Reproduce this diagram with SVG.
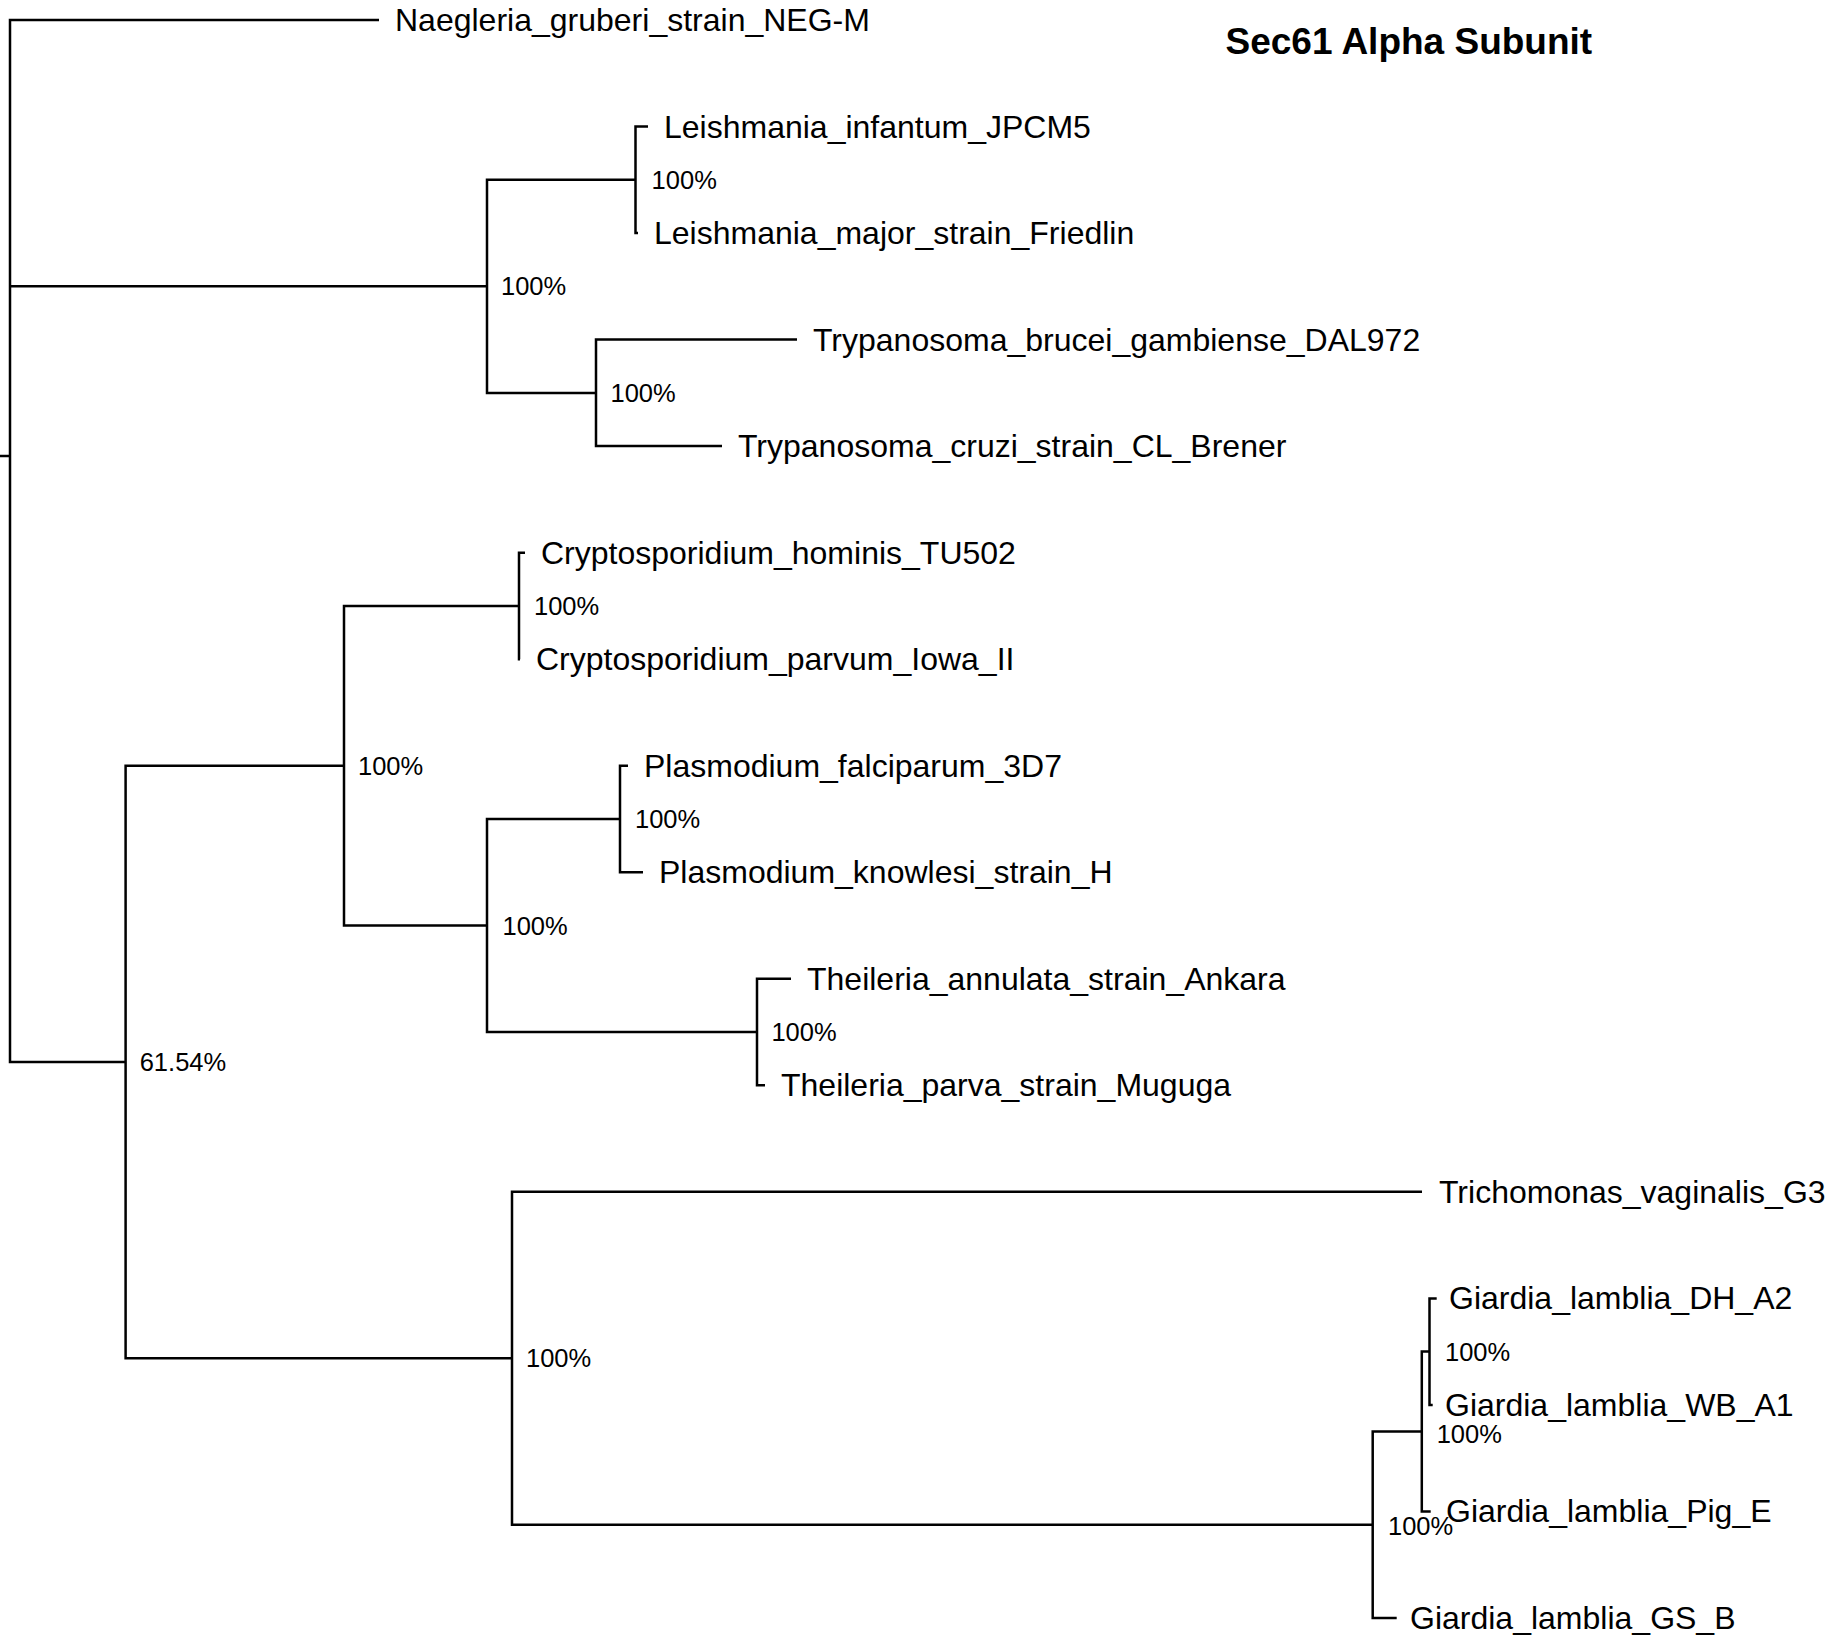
<svg xmlns="http://www.w3.org/2000/svg" width="1841" height="1643" viewBox="0 0 1841 1643">
<style>
.br{fill:none;stroke:#000;stroke-width:2.5;stroke-linejoin:miter;stroke-linecap:butt}
.leaf{font-family:"Liberation Sans",Arial,sans-serif;font-size:32px;fill:#000}
.sup{font-family:"Liberation Sans",Arial,sans-serif;font-size:25.5px;fill:#000}
.title{font-family:"Liberation Sans",Arial,sans-serif;font-size:37px;font-weight:bold;fill:#000}
</style>
<rect width="1841" height="1643" fill="#fff"/>
<text class="title" x="1225.5" y="53.5">Sec61 Alpha Subunit</text>
<g id="connectors">
<path class="br" d="M0 456 H10"/>
<path class="br" d="M379 20 H10 V1062 H125.6"/>
<path class="br" d="M10 286.3 H487"/>
<path class="br" d="M635.5 179.8 H487 V392.9 H596"/>
<path class="br" d="M648 126.5 H635.5 V233.1 H638"/>
<path class="br" d="M797 339.6 H596 V446.1 H722"/>
<path class="br" d="M344 765.7 H125.6 V1358.3 H512"/>
<path class="br" d="M519 606 H344 V925.5 H487"/>
<path class="br" d="M525 552.7 H519 V659.2 H520"/>
<path class="br" d="M620 819 H487 V1032 H757"/>
<path class="br" d="M628 765.7 H620 V872.2 H643"/>
<path class="br" d="M791 978.8 H757 V1085.3 H765"/>
<path class="br" d="M1422 1191.8 H512 V1524.8 H1372.7"/>
<path class="br" d="M1421.8 1431.5 H1372.7 V1618 H1396.7"/>
<path class="br" d="M1429.5 1351.6 H1421.8 V1511.4 H1430.7"/>
<path class="br" d="M1436.7 1298.4 H1429.5 V1404.9 H1432.7"/>
</g>
<g id="leaf_naegleria"><text class="leaf" x="395" y="31">Naegleria_gruberi_strain_NEG-M</text></g>
<g id="node_kinetoplastida"><text class="sup" x="501" y="295.3">100%</text></g>
<g id="node_leishmania"><text class="sup" x="651.6" y="188.8">100%</text></g>
<g id="leaf_l_infantum"><text class="leaf" x="664" y="137.5">Leishmania_infantum_JPCM5</text></g>
<g id="leaf_l_major"><text class="leaf" x="654" y="244.1">Leishmania_major_strain_Friedlin</text></g>
<g id="node_trypanosoma"><text class="sup" x="610.5" y="401.9">100%</text></g>
<g id="leaf_t_brucei"><text class="leaf" x="813" y="350.6">Trypanosoma_brucei_gambiense_DAL972</text></g>
<g id="leaf_t_cruzi"><text class="leaf" x="738" y="457.1">Trypanosoma_cruzi_strain_CL_Brener</text></g>
<g id="node_main"><text class="sup" x="139.7" y="1071">61.54%</text></g>
<g id="node_apicomplexa"><text class="sup" x="358" y="774.7">100%</text></g>
<g id="node_cryptosporidium"><text class="sup" x="534" y="615">100%</text></g>
<g id="leaf_c_hominis"><text class="leaf" x="541" y="563.7">Cryptosporidium_hominis_TU502</text></g>
<g id="leaf_c_parvum"><text class="leaf" x="536" y="670.2">Cryptosporidium_parvum_Iowa_II</text></g>
<g id="node_haemosporida"><text class="sup" x="502.5" y="934.5">100%</text></g>
<g id="node_plasmodium"><text class="sup" x="635" y="828">100%</text></g>
<g id="leaf_p_falciparum"><text class="leaf" x="644" y="776.7">Plasmodium_falciparum_3D7</text></g>
<g id="leaf_p_knowlesi"><text class="leaf" x="659" y="883.2">Plasmodium_knowlesi_strain_H</text></g>
<g id="node_theileria"><text class="sup" x="771.4" y="1041">100%</text></g>
<g id="leaf_t_annulata"><text class="leaf" x="807" y="989.8">Theileria_annulata_strain_Ankara</text></g>
<g id="leaf_t_parva"><text class="leaf" x="781" y="1096.3">Theileria_parva_strain_Muguga</text></g>
<g id="node_metamonada"><text class="sup" x="526" y="1367.3">100%</text></g>
<g id="leaf_trichomonas"><text class="leaf" x="1439" y="1202.8">Trichomonas_vaginalis_G3</text></g>
<g id="node_giardia"><text class="sup" x="1388" y="1535">100%</text></g>
<g id="node_giardia_ae"><text class="sup" x="1436.7" y="1443">100%</text></g>
<g id="node_giardia_a"><text class="sup" x="1445" y="1360.7">100%</text></g>
<g id="leaf_dh_a2"><text class="leaf" x="1449" y="1309.4">Giardia_lamblia_DH_A2</text></g>
<g id="leaf_wb_a1"><text class="leaf" x="1445" y="1415.9">Giardia_lamblia_WB_A1</text></g>
<g id="leaf_pig_e"><text class="leaf" x="1446" y="1522.4">Giardia_lamblia_Pig_E</text></g>
<g id="leaf_gs_b"><text class="leaf" x="1410" y="1629">Giardia_lamblia_GS_B</text></g>
</svg>
